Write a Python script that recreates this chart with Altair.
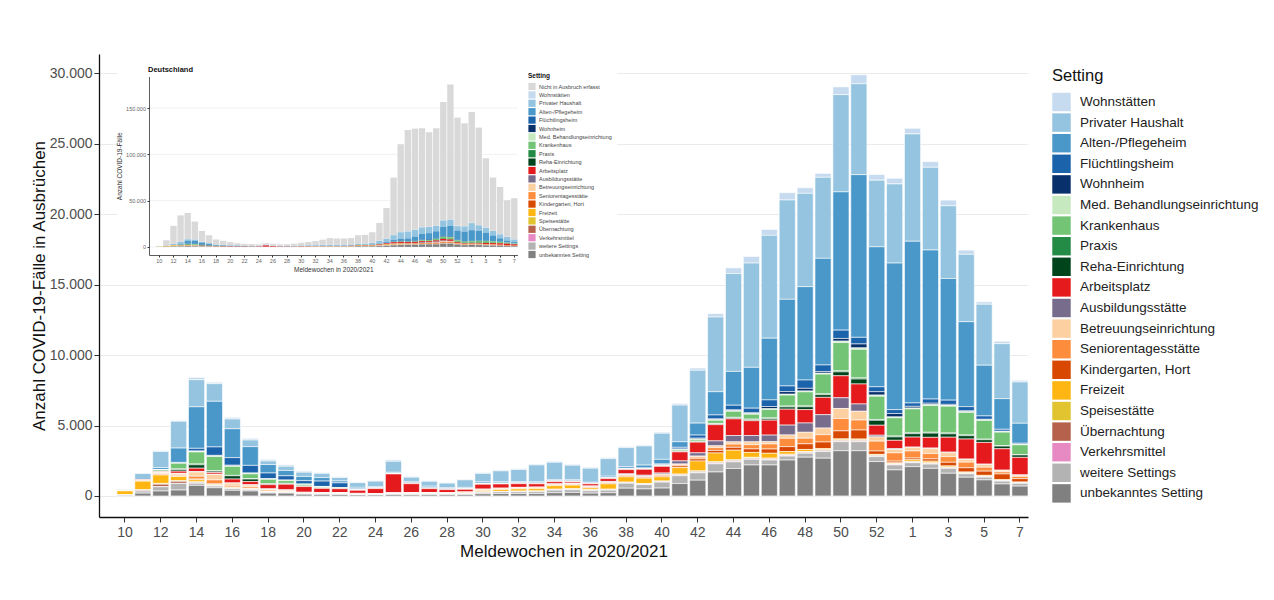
import altair as alt
import pandas as pd

FONT = "Liberation Sans"

# ---- categories -------------------------------------------------------
weeks = [str(w) for w in range(10, 54)] + [str(w) for w in range(1, 8)]
x_domain = ["9"] + weeks
tick_weeks = weeks[::2]

settings = ["Wohnstätten", "Privater Haushalt", "Alten-/Pflegeheim", "Flüchtlingsheim",
            "Wohnheim", "Med. Behandlungseinrichtung", "Krankenhaus", "Praxis",
            "Reha-Einrichtung", "Arbeitsplatz", "Ausbildungsstätte", "Betreuungseinrichtung",
            "Seniorentagesstätte", "Kindergarten, Hort", "Freizeit", "Speisestätte",
            "Übernachtung", "Verkehrsmittel", "weitere Settings", "unbekanntes Setting"]
colors = ["#c6dbef", "#94c4df", "#4a98c9", "#1b63ab", "#08306b", "#c7e9c0", "#74c476",
          "#238b45", "#00441b", "#e41a1c", "#786c8c", "#fdd0a2", "#fd8d3c", "#d94801",
          "#ffb612", "#e2c430", "#b5614b", "#e78ac3", "#b3b3b3", "#808080"]

# ---- series values (weeks 10..53 of 2020, 1..7 of 2021) ----------------
wohnstaetten = [0, 0, 50, 60, 170, 100, 120, 120, 120, 100, 80, 60, 50, 40, 40, 100, 60, 50, 40, 40,
                60, 60, 60, 70, 70, 70, 70, 70, 70, 70, 80, 120, 160, 240, 400, 470, 420, 520, 400, 280,
                550, 640, 400, 400, 400, 400, 400, 300, 170, 170, 120]
privat = [80, 420, 1150, 1900, 1920, 1250, 690, 470, 250, 300, 300, 300, 250, 330, 380, 780, 300, 350, 320, 530,
          600, 780, 870, 1200, 1230, 1020, 1000, 1250, 1350, 1360, 1850, 2600, 3750, 5300, 6950, 7400, 7300, 7050, 6620, 5750,
          6900, 6450, 4730, 5620, 7620, 5870, 5160, 4780, 4330, 3900, 2930]
alten = [0, 20, 130, 1020, 2950, 3240, 2050, 1330, 600, 380, 300, 250, 130, 80, 80, 60, 80, 80, 60, 60,
         100, 80, 80, 80, 80, 80, 60, 100, 120, 200, 330, 400, 850, 1650, 2400, 2900, 4380, 6150, 6630, 7570,
         9820, 11550, 9940, 10400, 11480, 10580, 8640, 6030, 3600, 2180, 1420]
fluechtling = [0, 0, 30, 60, 190, 600, 540, 540, 400, 300, 240, 380, 330, 100, 40, 30, 60, 70, 60, 60,
               40, 40, 30, 30, 40, 50, 30, 40, 50, 60, 70, 120, 220, 280, 330, 330, 470, 400, 590, 470,
               590, 470, 350, 280, 240, 300, 300, 300, 240, 140, 70]
wohnheim = [0, 0, 0, 0, 30, 40, 50, 40, 30, 30, 20, 20, 20, 0, 0, 0, 0, 0, 0, 0,
            0, 0, 0, 0, 0, 0, 0, 0, 0, 0, 20, 30, 60, 60, 60, 60, 160, 190, 190, 120,
            190, 280, 240, 240, 120, 100, 80, 60, 40, 30, 20]
med = [0, 0, 0, 0, 40, 40, 30, 20, 20, 10, 10, 10, 0, 0, 0, 0, 0, 0, 0, 0,
       0, 0, 0, 0, 0, 0, 0, 0, 0, 0, 0, 20, 30, 40, 40, 40, 50, 60, 60, 60,
       100, 100, 80, 60, 60, 60, 50, 50, 40, 30, 20]
krankenhaus = [0, 0, 100, 400, 850, 1000, 640, 350, 300, 200, 120, 80, 60, 30, 30, 30, 20, 20, 20, 20,
               20, 20, 20, 20, 20, 20, 20, 20, 30, 30, 60, 100, 120, 220, 430, 350, 600, 780, 1000, 1400,
               2000, 2030, 1650, 1300, 1700, 1900, 1900, 1600, 1330, 960, 700]
praxis = [0, 0, 30, 40, 60, 40, 30, 20, 20, 20, 10, 10, 0, 0, 0, 0, 0, 0, 0, 0,
          0, 0, 0, 0, 0, 0, 0, 0, 0, 0, 0, 20, 30, 40, 50, 50, 60, 60, 60, 60,
          80, 80, 60, 60, 60, 60, 60, 50, 40, 30, 20]
reha = [0, 0, 0, 120, 240, 100, 230, 180, 60, 40, 20, 20, 10, 0, 0, 0, 0, 0, 0, 0,
        10, 10, 10, 10, 10, 10, 0, 10, 10, 10, 20, 30, 40, 50, 60, 60, 100, 160, 200, 190,
        280, 350, 350, 240, 240, 300, 240, 240, 190, 190, 170]
arbeitsplatz = [0, 50, 70, 160, 240, 120, 280, 230, 300, 400, 400, 300, 280, 220, 350, 1350, 650, 280, 230, 200,
                350, 300, 260, 230, 150, 100, 150, 200, 300, 420, 470, 640, 760, 1150, 1180, 1050, 1060, 1130, 950, 1230,
                1560, 1420, 710, 590, 710, 760, 1060, 1420, 1540, 1520, 1250]
ausbildung = [0, 0, 0, 0, 30, 20, 20, 20, 20, 20, 20, 10, 0, 0, 0, 0, 0, 0, 0, 0,
              10, 10, 20, 20, 30, 30, 30, 40, 60, 60, 80, 220, 230, 350, 450, 450, 470, 700, 660, 950,
              760, 520, 120, 60, 40, 40, 40, 30, 30, 20, 20]
betreuung = [0, 0, 60, 120, 300, 380, 150, 120, 60, 40, 20, 20, 20, 10, 10, 10, 10, 10, 0, 10,
             20, 20, 20, 20, 30, 30, 30, 30, 30, 30, 40, 60, 80, 130, 160, 200, 160, 240, 420, 470,
             710, 620, 300, 240, 240, 350, 280, 190, 190, 100, 80]
senioren = [0, 20, 50, 60, 200, 280, 120, 110, 80, 60, 30, 20, 20, 20, 10, 10, 20, 20, 20, 20,
            40, 40, 40, 40, 40, 40, 40, 50, 60, 60, 80, 80, 120, 200, 230, 300, 360, 590, 400, 520,
            880, 710, 700, 590, 500, 380, 400, 400, 280, 150, 160]
kindergarten = [0, 30, 50, 40, 50, 50, 40, 30, 30, 20, 10, 10, 10, 10, 10, 10, 20, 20, 20, 20,
                30, 30, 30, 30, 30, 30, 40, 50, 60, 60, 70, 120, 150, 180, 200, 250, 300, 350, 400, 470,
                570, 640, 240, 120, 120, 160, 260, 300, 300, 400, 240]
freizeit = [300, 620, 600, 300, 150, 60, 40, 30, 30, 20, 10, 20, 40, 30, 30, 30, 40, 50, 40, 60,
            100, 130, 160, 170, 250, 260, 120, 380, 380, 380, 300, 460, 700, 620, 680, 350, 350, 190, 140, 80,
            70, 60, 60, 60, 120, 120, 80, 60, 60, 60, 60]
speise = [0, 0, 60, 40, 30, 20, 10, 10, 10, 10, 5, 5, 0, 0, 0, 0, 0, 0, 0, 0,
          10, 10, 20, 20, 30, 30, 20, 30, 30, 30, 30, 40, 50, 50, 50, 50, 40, 40, 40, 40,
          40, 40, 30, 30, 30, 30, 30, 20, 20, 20, 10]
uebernachtung = [0, 80, 180, 150, 60, 30, 20, 20, 10, 10, 10, 10, 10, 10, 10, 10, 10, 10, 10, 10,
                 20, 20, 30, 30, 40, 40, 60, 40, 40, 40, 40, 50, 60, 60, 60, 60, 60, 60, 60, 60,
                 60, 60, 50, 40, 40, 40, 40, 30, 30, 20, 20]
verkehr = [0, 0, 0, 0, 10, 0, 0, 0, 0, 0, 0, 0, 0, 0, 0, 0, 0, 0, 0, 0,
           0, 0, 0, 0, 0, 0, 0, 0, 10, 10, 10, 20, 30, 40, 40, 30, 30, 30, 30, 30,
           30, 30, 20, 20, 20, 20, 20, 20, 20, 10, 10]
weitere = [20, 150, 300, 470, 150, 120, 120, 100, 60, 50, 40, 30, 30, 30, 30, 40, 40, 40, 40, 50,
           100, 120, 120, 130, 180, 190, 170, 180, 350, 300, 420, 560, 520, 580, 470, 400, 350, 280, 280, 470,
           640, 640, 350, 350, 280, 300, 350, 240, 190, 200, 190]
unbekannt = [40, 200, 350, 420, 750, 580, 400, 350, 200, 200, 120, 110, 100, 70, 70, 100, 80, 90, 90, 100,
             150, 170, 170, 170, 230, 250, 200, 230, 550, 500, 560, 880, 1120, 1700, 1950, 2200, 2200, 2550, 2750, 2680,
             3210, 3210, 2440, 1850, 2080, 1960, 1610, 1330, 1140, 850, 700]

# inset: cases not captured in outbreaks (Deutschland)
nicht_erfasst = [600, 5600, 19500, 28700, 28300, 19300, 11700, 8500, 5400, 4300,
                 3300, 2300, 1900, 2000, 1600, 1400, 1900, 1600, 1800, 2300,
                 2700, 3400, 4300, 5500, 7000, 6800, 7000, 6800, 9000, 9400,
                 11300, 19400, 32900, 62000, 94800, 109300, 108900, 106700, 102000, 105300,
                 127600, 145500, 116900, 111000, 119700, 105200, 74800, 57500, 51000, 39400, 44400]

series = [wohnstaetten, privat, alten, fluechtling, wohnheim, med, krankenhaus, praxis, reha,
          arbeitsplatz, ausbildung, betreuung, senioren, kindergarten, freizeit, speise,
          uebernachtung, verkehr, weitere, unbekannt]

rows = []
for i, (name, vals) in enumerate(zip(settings, series)):
    assert len(vals) == len(weeks), name
    for w, v in zip(weeks, vals):
        rows.append({"week": w, "setting": name, "cases": v, "ord": len(settings) - i})
df = pd.DataFrame(rows)

inset_name = "Nicht in Ausbruch erfasst"
df_inset = pd.concat([df, pd.DataFrame({"week": weeks, "setting": inset_name,
                                        "cases": nicht_erfasst, "ord": 21})], ignore_index=True)
inset_domain = [inset_name] + settings
inset_colors = ["#d9d9d9"] + colors

de_fmt = "replace(format(datum.value, ','), ',', '.')"

# ---- main chart ------------------------------------------------------
main = alt.Chart(df).mark_bar(stroke="white", strokeWidth=0.6).encode(
    x=alt.X("week:N", scale=alt.Scale(domain=x_domain, paddingInner=0.1, paddingOuter=0),
            axis=alt.Axis(values=tick_weeks, title="Meldewochen in 2020/2021", labelAngle=0,
                          labelFontSize=14, labelColor="#4d4d4d", tickSize=5, tickColor="#333333",
                          domainColor="#111111", domainWidth=1.3, titleFontSize=17,
                          titleFontWeight="normal", titleColor="#111111", titlePadding=4,
                          labelPadding=3, grid=False)),
    y=alt.Y("cases:Q", stack="zero",
            scale=alt.Scale(domain=[-1494, 31374], nice=False, zero=False),
            axis=alt.Axis(values=list(range(0, 30001, 5000)), labelExpr=de_fmt,
                          title="Anzahl COVID-19-Fälle in Ausbrüchen", labelFontSize=14,
                          labelColor="#4d4d4d", tickSize=5, tickColor="#333333",
                          domainColor="#111111", domainWidth=1.3, titleFontSize=17,
                          titleFontWeight="normal", titleColor="#111111", titlePadding=1,
                          labelPadding=2, grid=True, gridColor="#ebebeb", gridWidth=1)),
    color=alt.Color("setting:N", scale=alt.Scale(domain=settings, range=colors),
                    legend=alt.Legend(orient="none", legendX=953, legendY=14, title="Setting",
                                      titleFontSize=16.5, titleFontWeight="normal",
                                      titleColor="#111111", titlePadding=8, labelFontSize=13.5,
                                      labelColor="#222222", symbolType="square", symbolSize=340,
                                      symbolStrokeWidth=0, rowPadding=1.6, labelOffset=9,
                                      padding=0, labelLimit=300)),
    order=alt.Order("ord:Q", sort="ascending"),
)

# ---- inset (Deutschland) ---------------------------------------------
inset_x = alt.Scale(domain=x_domain, range=[50, 418.5], paddingInner=0.1, paddingOuter=0)
inset_y = alt.Scale(domain=[-8770, 184170], range=[201, 22.5], nice=False, zero=False)
inset_y_axis = alt.Axis(orient="left", offset=-50, values=[0, 50000, 100000, 150000],
                        labelExpr=de_fmt, labelFontSize=5.5, labelColor="#666666", tickSize=2,
                        tickColor="#333333", domainColor="#333333", domainWidth=0.8,
                        title="Anzahl COVID-19-Fälle", titleFontSize=6.5, titleFontWeight="normal",
                        titleColor="#333333", titlePadding=3, labelPadding=1.5, grid=False, zindex=1)

one = pd.DataFrame({"k": [0]})
inset_bg = alt.Chart(one).mark_rect(color="white").encode(
    x=alt.value(18), x2=alt.value(518), y=alt.value(4), y2=alt.value(224))
inset_title = alt.Chart(one).mark_text(text="Deutschland", fontWeight="bold", fontSize=7.5,
                                       align="left", baseline="middle", font=FONT,
                                       color="#111111").encode(x=alt.value(49), y=alt.value(16))
inset_grid = alt.Chart(pd.DataFrame({"g": [0, 50000, 100000, 150000]})).mark_rule(
    color="#eeeeee", strokeWidth=0.8).encode(
    y=alt.Y("g:Q", scale=inset_y, axis=inset_y_axis), x=alt.value(50), x2=alt.value(419))
inset_bars = alt.Chart(df_inset).mark_bar().encode(
    x=alt.X("week:N", scale=inset_x,
            axis=alt.Axis(orient="bottom", offset=-262, values=tick_weeks, labelAngle=0,
                          labelFontSize=5.5, labelColor="#666666", tickSize=2, tickColor="#333333",
                          domainColor="#333333", domainWidth=0.8, title="Meldewochen in 2020/2021",
                          titleFontSize=6.5, titleFontWeight="normal", titleColor="#333333",
                          titlePadding=2, labelPadding=1.5, grid=False, zindex=1)),
    y=alt.Y("cases:Q", stack="zero", scale=inset_y, axis=inset_y_axis),
    color=alt.Color("setting:N", scale=alt.Scale(domain=inset_domain, range=inset_colors),
                    legend=alt.Legend(orient="none", legendX=429, legendY=19, title="Setting",
                                      titleFontSize=6.5, titleFontWeight="bold", titleColor="#111111",
                                      titlePadding=3, labelFontSize=5.5, labelColor="#444444",
                                      symbolType="square", symbolSize=52, symbolStrokeWidth=0,
                                      rowPadding=0.4, labelOffset=3, padding=0, labelLimit=200)),
    order=alt.Order("ord:Q", sort="ascending"),
)

inset = alt.layer(inset_bg, inset_title, inset_grid, inset_bars)

chart = alt.layer(main, inset).resolve_scale(
    x="independent", y="independent", color="independent"
).properties(
    width=929, height=463,
    autosize=alt.AutoSizeParams(type="none"),
    padding={"left": 91, "top": 46, "right": 230, "bottom": 70},
).configure_view(stroke=None).configure_axis(
    labelFont=FONT, titleFont=FONT
).configure_legend(labelFont=FONT, titleFont=FONT).configure_text(font=FONT)

chart.save("out.html", embed_options={"renderer": "svg", "actions": False})
